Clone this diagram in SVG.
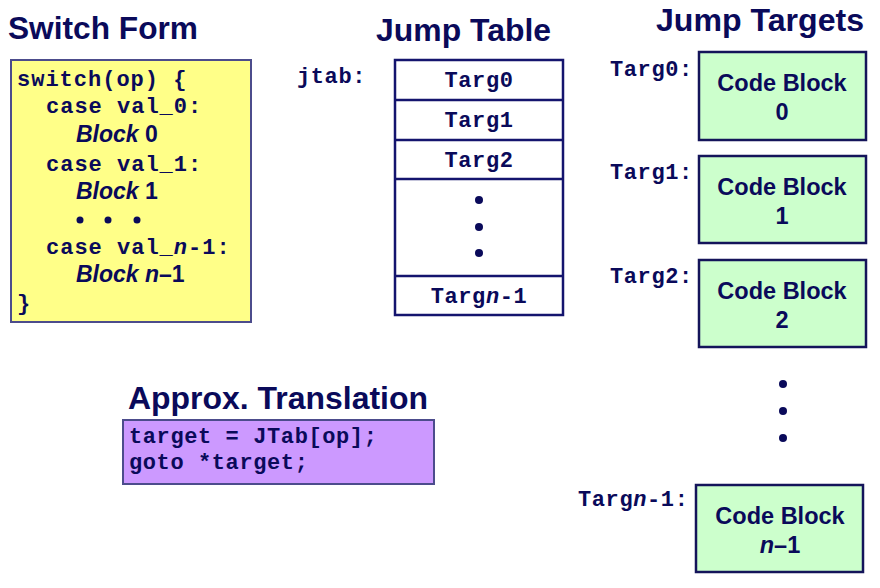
<svg xmlns="http://www.w3.org/2000/svg" width="880" height="588" viewBox="0 0 880 588">
<style>
.title{font-family:"Liberation Sans",Arial,sans-serif;font-weight:bold;font-size:32px;fill:#0a0a5a}
.code{font-family:"Liberation Mono","Courier New",monospace;font-weight:bold;font-size:22px;letter-spacing:0.6px;fill:#0a0a5a}
.sw{letter-spacing:1px}
.blk{font-family:"Liberation Sans",Arial,sans-serif;font-weight:bold;font-size:23px;fill:#0a0a5a}
.cb{font-family:"Liberation Sans",Arial,sans-serif;font-weight:bold;font-size:23.5px;fill:#0a0a5a;text-anchor:middle}
.it{font-style:italic}
.yel{fill:#ffff88;stroke:#4c4c8c;stroke-width:2}
.pur{fill:#cc99ff;stroke:#4c4c8c;stroke-width:2}
.tab{fill:#ffffff;stroke:#14146e;stroke-width:2.5}
.grn{fill:#ccffcc;stroke:#14145a;stroke-width:2.5}
.dot{fill:#0a0a5a}
.mid{text-anchor:middle}
</style>
<rect width="880" height="588" fill="#ffffff"/>

<g id="switch-form">
  <text class="title" x="8" y="39" textLength="190" lengthAdjust="spacingAndGlyphs">Switch Form</text>
  <rect class="yel" x="11" y="60" width="240" height="262"/>
  <text class="code sw" x="17" y="86">switch(op) {</text>
  <text class="code sw" x="46" y="113">case val_0:</text>
  <text class="blk" x="76" y="142"><tspan class="it">Block</tspan> 0</text>
  <text class="code sw" x="46" y="171">case val_1:</text>
  <text class="blk" x="76" y="199"><tspan class="it">Block</tspan> 1</text>
  <circle class="dot" cx="80" cy="220" r="3.5"/>
  <circle class="dot" cx="108" cy="220" r="3.5"/>
  <circle class="dot" cx="137" cy="220" r="3.5"/>
  <text class="code sw" x="46" y="254">case val_<tspan class="it">n</tspan>-1:</text>
  <text class="blk" x="76" y="282"><tspan class="it">Block n</tspan>–1</text>
  <text class="code sw" x="17" y="310">}</text>
</g>

<g id="jump-table">
  <text class="title" x="376" y="41" textLength="175" lengthAdjust="spacingAndGlyphs">Jump Table</text>
  <text class="code" x="297" y="83">jtab:</text>
  <rect class="tab" x="395" y="60" width="168" height="255"/>
  <line class="tab" x1="395" y1="100" x2="563" y2="100"/>
  <line class="tab" x1="395" y1="140" x2="563" y2="140"/>
  <line class="tab" x1="395" y1="179" x2="563" y2="179"/>
  <line class="tab" x1="395" y1="276" x2="563" y2="276"/>
  <text class="code mid" x="479" y="87">Targ0</text>
  <text class="code mid" x="479" y="127">Targ1</text>
  <text class="code mid" x="479" y="167">Targ2</text>
  <circle class="dot" cx="479" cy="200" r="4"/>
  <circle class="dot" cx="479" cy="227" r="4"/>
  <circle class="dot" cx="479" cy="253" r="4"/>
  <text class="code mid" x="479" y="303">Targ<tspan class="it">n</tspan>-1</text>
</g>

<g id="jump-targets">
  <text class="title" x="656" y="31" textLength="208" lengthAdjust="spacingAndGlyphs">Jump Targets</text>
</g>

<g id="target-0">
  <text class="code" x="610" y="76">Targ0:</text>
  <rect class="grn" x="699" y="52" width="167" height="88"/>
  <text class="cb" x="782" y="91">Code Block</text>
  <text class="cb" x="782" y="120">0</text>
</g>
<g id="target-1">
  <text class="code" x="610" y="179">Targ1:</text>
  <rect class="grn" x="699" y="156" width="167" height="87"/>
  <text class="cb" x="782" y="195">Code Block</text>
  <text class="cb" x="782" y="224">1</text>
</g>
<g id="target-2">
  <text class="code" x="610" y="283">Targ2:</text>
  <rect class="grn" x="699" y="260" width="167" height="87"/>
  <text class="cb" x="782" y="299">Code Block</text>
  <text class="cb" x="782" y="328">2</text>
</g>
<g id="target-dots">
  <circle class="dot" cx="783" cy="384" r="4"/>
  <circle class="dot" cx="783" cy="411" r="4"/>
  <circle class="dot" cx="783" cy="438" r="4"/>
</g>
<g id="target-n-1">
  <text class="code" x="578" y="506">Targ<tspan class="it">n</tspan>-1:</text>
  <rect class="grn" x="696" y="485" width="167" height="87"/>
  <text class="cb" x="780" y="524">Code Block</text>
  <text class="cb" x="780" y="553"><tspan class="it">n</tspan>–1</text>
</g>

<g id="translation">
  <text class="title" x="128" y="409" textLength="300" lengthAdjust="spacingAndGlyphs">Approx. Translation</text>
  <rect class="pur" x="123" y="420" width="311" height="64"/>
  <text class="code" x="129" y="443">target = JTab[op];</text>
  <text class="code" x="129" y="469">goto *target;</text>
</g>

<g id="connectors"></g>
</svg>
